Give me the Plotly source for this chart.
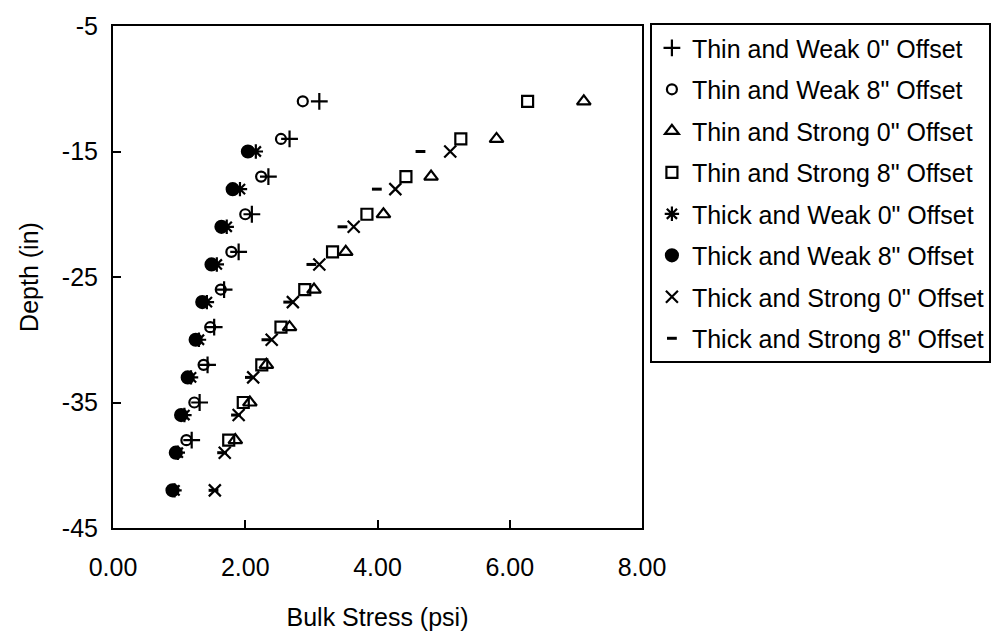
import plotly.graph_objects as go

# Depth positions of the measurement points (in)
depth_thin = [-11, -14, -17, -20, -23, -26, -29, -32, -35, -38]
depth_thick = [-15, -18, -21, -24, -27, -30, -33, -36, -39, -42]

# Bulk stress (psi) for each section / offset
thin_weak_0 = [3.12, 2.67, 2.35, 2.10, 1.90, 1.68, 1.53, 1.43, 1.31, 1.19]
thin_weak_8 = [2.87, 2.54, 2.24, 2.00, 1.79, 1.63, 1.47, 1.37, 1.23, 1.11]
thin_strong_0 = [7.12, 5.80, 4.81, 4.09, 3.52, 3.04, 2.67, 2.32, 2.07, 1.85]
thin_strong_8 = [6.27, 5.26, 4.43, 3.84, 3.32, 2.90, 2.54, 2.25, 1.97, 1.75]
thick_weak_0 = [2.16, 1.92, 1.72, 1.57, 1.42, 1.30, 1.18, 1.08, 0.98, 0.93]
thick_weak_8 = [2.04, 1.81, 1.64, 1.49, 1.35, 1.25, 1.13, 1.03, 0.95, 0.90]
thick_strong_0 = [5.10, 4.27, 3.64, 3.12, 2.72, 2.40, 2.12, 1.90, 1.69, 1.54]
thick_strong_8 = [4.65, 3.99, 3.47, 3.00, 2.65, 2.32, 2.07, 1.86, 1.65, 1.52]

x_tickvals = [0, 2, 4, 6, 8]
x_ticktext = ["0.00", "2.00", "4.00", "6.00", "8.00"]
y_tickvals = [-5, -15, -25, -35, -45]
y_ticktext = ["-5", "-15", "-25", "-35", "-45"]

FONT = "Liberation Sans, Arial, sans-serif"

series = [
    ("Thin and Weak 0\" Offset", thin_weak_0, depth_thin, "cross-thin-open", 12),
    ("Thin and Weak 8\" Offset", thin_weak_8, depth_thin, "circle-open", 10),
    ("Thin and Strong 0\" Offset", thin_strong_0, depth_thin, "triangle-up-open", 12),
    ("Thin and Strong 8\" Offset", thin_strong_8, depth_thin, "square-open", 11),
    ("Thick and Weak 0\" Offset", thick_weak_0, depth_thick, "asterisk-open", 12),
    ("Thick and Weak 8\" Offset", thick_weak_8, depth_thick, "circle", 12),
    ("Thick and Strong 0\" Offset", thick_strong_0, depth_thick, "x-thin-open", 12),
    ("Thick and Strong 8\" Offset", thick_strong_8, depth_thick, "line-ew-open", 7),
]

fig = go.Figure()
for i, (name, xs, ys, sym, size) in enumerate(series):
    fig.add_trace(go.Scatter(
        x=xs, y=ys, mode="markers", name=name, legendgroup=f"g{i}",
        marker=dict(symbol=sym, size=size, color="black",
                    line=dict(color="black", width=3 if sym == "line-ew-open" else 2.2)),
    ))

fig.update_layout(
    width=1003, height=639,
    margin=dict(l=113, r=355, t=21, b=109),
    paper_bgcolor="white", plot_bgcolor="white",
    font=dict(family=FONT, size=25, color="black"),
    showlegend=True,
    legend=dict(
        x=(656 - 113) / 535, xanchor="left",
        y=(530 - 18) / 509, yanchor="top",
        bgcolor="white", bordercolor="black", borderwidth=2,
        font=dict(family=FONT, size=25, color="black"),
        traceorder="grouped", tracegroupgap=6, maxheight=600,
    ),
    xaxis=dict(
        range=[0, 8], tickvals=x_tickvals, ticktext=x_ticktext,
        ticks="inside", ticklen=8, tickwidth=2, tickcolor="black",
        showline=True, linecolor="black", linewidth=2, mirror=True,
        showgrid=False, zeroline=False, ticklabelstandoff=16,
        title=dict(text="Bulk Stress (psi)", font=dict(family=FONT, size=25), standoff=28),
    ),
    yaxis=dict(
        range=[-45, -5], tickvals=y_tickvals, ticktext=y_ticktext,
        ticks="inside", ticklen=8, tickwidth=2, tickcolor="black",
        showline=True, linecolor="black", linewidth=2, mirror=True,
        showgrid=False, zeroline=False, ticklabelstandoff=8,
        title=dict(text="Depth (in)", font=dict(family=FONT, size=25), standoff=16),
    ),
)

fig.write_html("out.html")
